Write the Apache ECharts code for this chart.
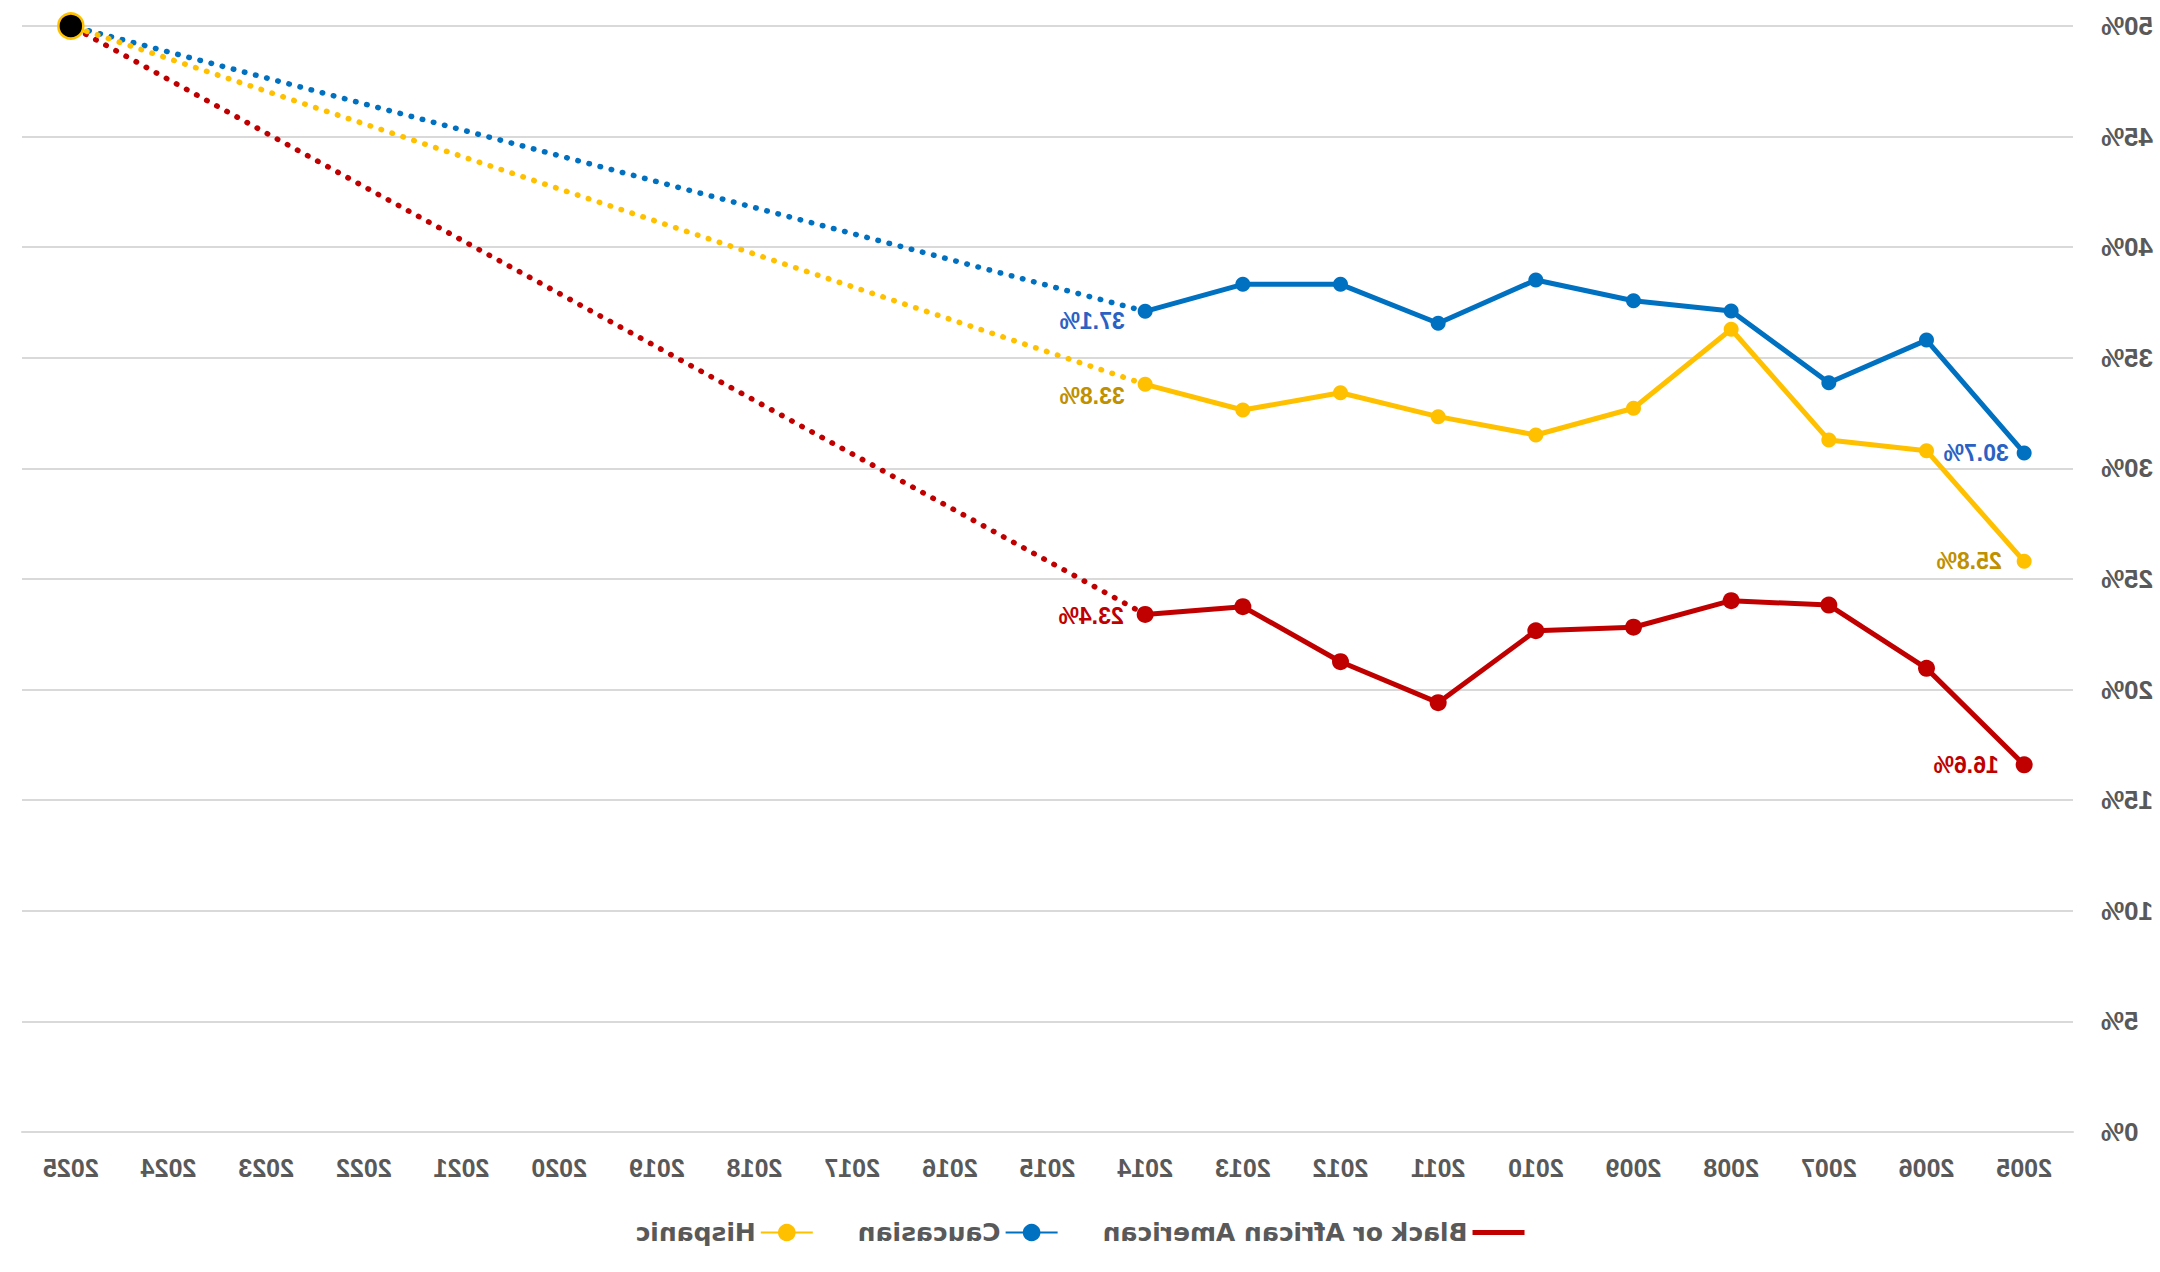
<!DOCTYPE html>
<html>
<head>
<meta charset="utf-8">
<script src="https://cdn.jsdelivr.net/npm/echarts@6/dist/echarts.min.js"></script>
<style>
html,body{margin:0;padding:0;background:#ffffff;}
#chart{width:2160px;height:1272px;transform:scaleX(-1);}
</style>
</head>
<body>
<div id="chart"></div>
<script>
// Categories (years), oldest first
const years = ['2005','2006','2007','2008','2009','2010','2011','2012','2013','2014',
               '2015','2016','2017','2018','2019','2020','2021','2022','2023','2024','2025'];
// Series values for 2005..2014 (%)
const blackAA   = [16.6, 20.96, 23.82, 24.02, 22.82, 22.66, 19.41, 21.26, 23.75, 23.4];
const caucasian = [30.7, 35.8, 33.87, 37.12, 37.58, 38.52, 36.56, 38.32, 38.32, 37.1];
const hispanic  = [25.8, 30.8, 31.28, 36.29, 32.72, 31.51, 32.34, 33.42, 32.64, 33.8];
// Goal point
const goalYear = '2025';
const goalValue = 50;
// Y axis ticks
const yMin = 0, yMax = 50, yStep = 5;

const names = ['Black or African American', 'Caucasian', 'Hispanic'];
const colors = ['#c00000', '#0070c0', '#ffc000'];
const labelColors = ['#c00000', '#2a62c4', '#bf9000'];
const sizes = [17, 15, 15];
const firstLabelDist = [17, 8, 15];
const lastLabelDist = [13, 13, 13];
const lastLabelOffsetY = [2, 10, 12];
const values = [blackAA, caucasian, hispanic];

function buildData(arr, k) {
  const last = arr.length - 1;
  return arr.map((v, i) => {
    if (i === 0) {
      return { value: v, label: { show: true, position: 'right', distance: firstLabelDist[k], offset: [0, 0] } };
    }
    if (i === last) {
      return { value: v, label: { show: true, position: 'right', distance: lastLabelDist[k], offset: [0, lastLabelOffsetY[k]] } };
    }
    return v;
  });
}

const series = [];
// dotted projections first (below)
values.forEach((arr, k) => {
  const last = arr.length - 1;
  series.push({
    name: names[k] + ' goal',
    type: 'line',
    data: [[years[last], arr[last]], [goalYear, goalValue]],
    showSymbol: false,
    symbol: 'none',
    silent: true,
    lineStyle: { color: colors[k], width: 5.5, type: [0.5, 11], cap: 'round' },
    z: 2
  });
});
values.forEach((arr, k) => {
  series.push({
    name: names[k],
    type: 'line',
    data: buildData(arr, k),
    symbol: 'circle',
    symbolSize: sizes[k],
    itemStyle: { color: colors[k] },
    lineStyle: { color: colors[k], width: 5 },
    label: {
      show: false,
      color: labelColors[k],
      fontFamily: 'Liberation Sans, Arial, sans-serif',
      fontWeight: 'bold',
      fontSize: 23,
      formatter: p => p.value.toFixed(1) + '%'
    },
    z: 3
  });
});
series.push({
  name: 'Goal',
  type: 'scatter',
  data: [[goalYear, goalValue]],
  symbol: 'circle',
  symbolSize: 25,
  itemStyle: { color: '#000000', opacity: 1, borderColor: '#ffc000', borderWidth: 2.5 },
  z: 5
});

const chart = echarts.init(document.getElementById('chart'), null, { renderer: 'svg' });
chart.setOption({
  animation: false,
  backgroundColor: '#ffffff',
  grid: { left: 87, right: 22, top: 26, bottom: 140, containLabel: false },
  legend: {
    data: [
      { name: names[0], icon: 'path://M0,0H60V6H0Z' },
      { name: names[1] },
      { name: names[2] }
    ],
    left: 'center',
    top: 1215,
    itemWidth: 52,
    itemHeight: 22,
    itemGap: 44,
    textStyle: { color: '#595959', fontFamily: 'DejaVu Sans', fontWeight: 'bold', fontSize: 25 }
  },
  xAxis: {
    type: 'category',
    data: years,
    boundaryGap: true,
    axisTick: { show: false },
    axisLine: { lineStyle: { color: '#d9d9d9', width: 2 } },
    axisLabel: { color: '#595959', fontFamily: 'Liberation Sans, Arial, sans-serif', fontWeight: 'bold', fontSize: 25, margin: 23, interval: 0 },
    splitLine: { show: false }
  },
  yAxis: {
    type: 'value',
    min: yMin,
    max: yMax,
    interval: yStep,
    axisLine: { show: false },
    axisTick: { show: false },
    axisLabel: { color: '#595959', fontFamily: 'Liberation Sans, Arial, sans-serif', fontWeight: 'bold', fontSize: 26, margin: 28, formatter: '{value}%' },
    splitLine: { lineStyle: { color: '#d9d9d9', width: 2 } }
  },
  series: series
});
</script>
</body>
</html>
